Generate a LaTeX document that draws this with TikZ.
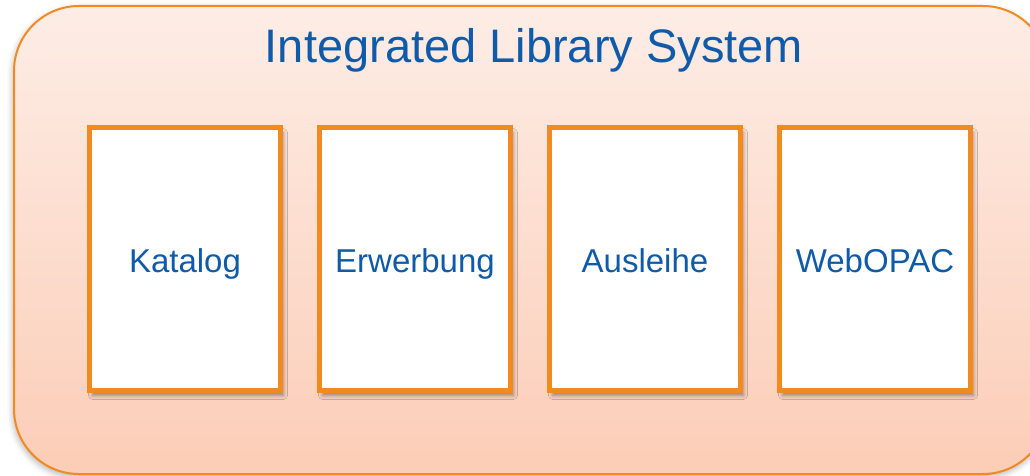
\documentclass[tikz,border=0pt]{standalone}
\usepackage{fontspec}
\setmainfont{Liberation Sans}
\usetikzlibrary{positioning,shadows.blur}

\definecolor{ilsorange}{HTML}{F28A1F}
\definecolor{ilsblue}{HTML}{0F5BAA}
\definecolor{ilstop}{HTML}{FDEDE6}
\definecolor{ilsbottom}{HTML}{FCCDB7}

\begin{document}
\begin{tikzpicture}[x=0.5pt, y=-0.5pt, node distance=17pt,
  module/.style={draw=ilsorange, line width=2.5pt, fill=white,
    minimum width=95.5pt, minimum height=131.5pt,
    text=ilsblue, font=\fontsize{16.5}{19}\selectfont,
    text height=13pt, text depth=0pt,
    blur shadow={shadow xshift=1.5pt, shadow yshift=-2.5pt, shadow blur radius=2pt, shadow opacity=40}}]
  \useasboundingbox (0,0) rectangle (1030,476);
  % outer system frame
  \filldraw [ilsorange, top color=ilstop, bottom color=ilsbottom, line width=1pt, rounded corners=32.5pt,
    blur shadow={shadow xshift=-0.5pt, shadow yshift=-1.5pt, shadow blur radius=3pt, shadow opacity=30}] (14,6) rectangle (1048,474);
  \node (title) [text=ilsblue, font=\fontsize{23.5}{28}\selectfont, anchor=base] at (534,63) {Integrated Library System};
  % modules
  \node (katalog) [module] at (185,259) {Katalog};
  \node (erwerbung) [module, right=of katalog] {Erwerbung};
  \node (ausleihe) [module, right=of erwerbung] {Ausleihe};
  \node (webopac) [module, right=of ausleihe] {WebOPAC};
\end{tikzpicture}
\end{document}
